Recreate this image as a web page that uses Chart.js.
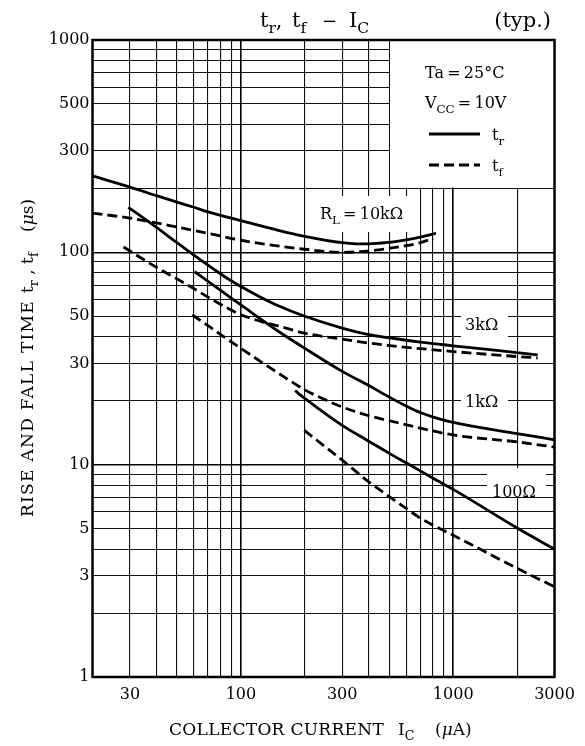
<!DOCTYPE html>
<html>
<head>
<meta charset="UTF-8">
<title>tr, tf - IC</title>
<script src="https://cdn.jsdelivr.net/npm/chart.js@4.4.0/dist/chart.umd.min.js"></script>
<style>
    * { margin: 0; padding: 0; box-sizing: border-box; }
    body { background: #fff; width: 585px; height: 746px; overflow: hidden; }
    canvas { display: block; }
</style>
</head>
<body>
<canvas id="chart" width="585" height="746"></canvas>
<script>
// axis ticks
const xTicks = [20, 30, 40, 50, 60, 70, 80, 90, 100, 200, 300, 400, 500, 600, 700, 800, 900, 1000, 2000, 3000];
const xLabels = [30, 100, 300, 1000, 3000];
const yTicks = [1, 2, 3, 4, 5, 6, 7, 8, 9, 10, 20, 30, 40, 50, 60, 70, 80, 90, 100, 200, 300, 400, 500, 600, 700, 800, 900, 1000];
const yLabels = [1, 3, 5, 10, 30, 50, 100, 300, 500, 1000];

// RL = 10k
const tr10kX = [20, 30, 40, 50, 60, 70, 100, 150, 200, 300, 350, 400, 500, 600, 700, 830];
const tr10kY = [229, 203, 185, 172.5, 163, 155, 141, 127, 119, 111, 109.7, 109.6, 111.5, 114.5, 118, 123];
const tf10kX = [20, 30, 40, 50, 70, 100, 200, 300, 400, 500, 600, 700, 805];
const tf10kY = [153, 145, 137.5, 131.5, 123, 114, 103.4, 100, 101.5, 104.5, 107.5, 111, 116.5];
// RL = 3k
const tr3kX = [29.5, 40, 50, 60, 70, 80, 90, 100, 120, 150, 200, 300, 400, 500, 700, 1000, 2000, 2500];
const tr3kY = [163, 131, 111, 97, 87, 79.3, 73.5, 69, 62.5, 56, 50, 44, 41, 39.6, 37.8, 36.3, 33.7, 32.9];
const tf3kX = [28, 40, 50, 60, 70, 80, 90, 100, 125, 150, 200, 300, 400, 500, 1000, 2000, 2500];
const tf3kY = [106, 85, 75, 67.5, 61.5, 57, 53.5, 50.8, 47.2, 45, 41.6, 39, 37.4, 36.4, 34.1, 32.3, 31.8];
// RL = 1k
const tr1kX = [60.5, 70, 80, 90, 100, 150, 200, 300, 400, 500, 600, 700, 800, 1000, 2000, 3000];
const tr1kY = [81, 73, 66.3, 60.9, 56.5, 42.5, 35.3, 27.5, 23.6, 20.8, 18.9, 17.6, 16.8, 15.8, 14.0, 13.1];
const tf1kX = [59, 70, 80, 100, 150, 200, 250, 300, 400, 500, 1000, 2000, 3000];
const tf1kY = [50.7, 45.2, 41.1, 35.3, 27, 22.5, 20.2, 18.7, 17.0, 16.1, 13.8, 12.8, 12.1];
// RL = 100
const tr100X = [180, 200, 300, 400, 500, 600, 700, 800, 1000, 2000, 3000];
const tr100Y = [22.3, 20.5, 15.3, 12.9, 11.3, 10.2, 9.35, 8.65, 7.65, 5.03, 4.0];
const tf100X = [199, 300, 400, 500, 600, 700, 800, 1000, 2000, 3000];
const tf100Y = [14.5, 10.5, 8.3, 7.07, 6.23, 5.6, 5.2, 4.65, 3.25, 2.66];

const FONT = '"DejaVu Serif", serif';

function pts(xs, ys) {
    return xs.map((x, i) => ({ x: x, y: ys[i] }));
}

function curve(xs, ys, dashed) {
    return {
        data: pts(xs, ys),
        showLine: true,
        borderColor: '#000',
        borderWidth: 2.8,
        borderDash: dashed ? [10, 5] : [],
        pointRadius: 0,
        fill: false,
        tension: 0.4,
        cubicInterpolationMode: 'monotone'
    };
}

function isDecade(v) {
    return v === 1 || v === 10 || v === 100 || v === 1000;
}

// draws a run of text pieces, some as subscripts
function rich(ctx, parts, x, y, size) {
    let cx = x;
    for (const p of parts) {
        const fs = p.sub ? size * 0.74 : size;
        ctx.font = (p.it ? 'italic ' : '') + fs + 'px ' + FONT;
        ctx.fillText(p.t, cx, y + (p.sub ? size * 0.3 : 0));
        cx += ctx.measureText(p.t).width;
    }
    return cx;
}

function clearBox(ctx, x0, y0, x1, y1) {
    ctx.fillStyle = '#fff';
    ctx.fillRect(x0, y0, x1 - x0, y1 - y0);
}

const decor = {
    id: 'decor',
    beforeDatasetsDraw(chart) {
        const ctx = chart.ctx;
        const a = chart.chartArea;
        const sx = chart.scales.x, sy = chart.scales.y;
        ctx.save();
        // legend panel, label backgrounds
        clearBox(ctx, sx.getPixelForValue(500) + 0.8, a.top, a.right, sy.getPixelForValue(200) - 0.8);
        clearBox(ctx, 312, 196, 416, 232);
        clearBox(ctx, 461, 311, 508, 340);
        clearBox(ctx, 461, 389, 508, 412);
        clearBox(ctx, 487, 468, 546, 497);

        ctx.fillStyle = '#000';
        ctx.textBaseline = 'alphabetic';
        ctx.textAlign = 'left';
        rich(ctx, [{ t: 'R' }, { t: 'L', sub: true }, { t: '\u2009=\u200910k\u03A9' }], 320, 219, 16);
        rich(ctx, [{ t: '3k\u03A9' }], 465, 330, 16);
        rich(ctx, [{ t: '1k\u03A9' }], 465, 407, 16);
        rich(ctx, [{ t: '100\u03A9' }], 492, 497, 16);
        ctx.restore();
    },
    afterDatasetsDraw(chart) {
        const ctx = chart.ctx;
        const a = chart.chartArea;
        ctx.save();
        ctx.strokeStyle = '#000';
        ctx.lineWidth = 2.5;
        ctx.strokeRect(a.left, a.top, a.right - a.left, a.bottom - a.top);
        ctx.restore();
    },
    afterDraw(chart) {
        const ctx = chart.ctx;
        ctx.save();
        ctx.fillStyle = '#000';
        ctx.textBaseline = 'alphabetic';
        ctx.textAlign = 'left';

        // title
        rich(ctx, [{ t: 't' }, { t: 'r', sub: true }, { t: ',' }], 260, 27, 21);
        rich(ctx, [{ t: 't' }, { t: 'f', sub: true }], 292, 27, 21);
        rich(ctx, [{ t: '\u2212' }], 322, 27, 18);
        rich(ctx, [{ t: 'I' }, { t: 'C', sub: true }], 349, 27, 21);
        ctx.textAlign = 'right';
        ctx.font = '21px ' + FONT;
        ctx.fillText('(typ.)', 551, 27);
        ctx.textAlign = 'left';

        // conditions and line key
        rich(ctx, [{ t: 'Ta\u2009=\u200925\u00B0C' }], 425, 78, 16);
        rich(ctx, [{ t: 'V' }, { t: 'CC', sub: true }, { t: '\u2009=\u200910V' }], 425, 108, 16);
        ctx.strokeStyle = '#000';
        ctx.lineWidth = 2.8;
        ctx.beginPath();
        ctx.moveTo(429, 134); ctx.lineTo(480, 134);
        ctx.stroke();
        ctx.setLineDash([10, 5]);
        ctx.beginPath();
        ctx.moveTo(429, 165); ctx.lineTo(480, 165);
        ctx.stroke();
        ctx.setLineDash([]);
        rich(ctx, [{ t: 't' }, { t: 'r', sub: true }], 492, 140, 16);
        rich(ctx, [{ t: 't' }, { t: 'f', sub: true }], 492, 171, 16);

        // x axis title
        ctx.letterSpacing = '0.3px';
        rich(ctx, [{ t: 'COLLECTOR CURRENT' }], 169, 735, 17);
        ctx.letterSpacing = '0px';
        rich(ctx, [{ t: 'I' }, { t: 'C', sub: true }], 398, 735, 17);
        rich(ctx, [{ t: '(' }, { t: '\u03BC', it: true }, { t: 'A)' }], 435, 735, 17);

        // y axis title, rotated
        ctx.translate(33, 0);
        ctx.rotate(-Math.PI / 2);
        ctx.letterSpacing = '1.3px';
        rich(ctx, [{ t: 'RISE AND FALL TIME' }], -517, 0, 17);
        ctx.letterSpacing = '0px';
        rich(ctx, [{ t: 't' }, { t: 'r', sub: true }, { t: ' , t' }, { t: 'f', sub: true }], -293, 0, 17);
        rich(ctx, [{ t: '(' }, { t: '\u03BC', it: true }, { t: 's)' }], -232, 0, 17);
        ctx.restore();
    }
};

const gridColor = ctx => (ctx.tick && isDecade(ctx.tick.value)) ? '#000' : '#111';
const gridWidth = ctx => (ctx.tick && isDecade(ctx.tick.value)) ? 1.6 : 1.1;

new Chart(document.getElementById('chart').getContext('2d'), {
    type: 'scatter',
    data: {
        datasets: [
            curve(tr10kX, tr10kY, false),
            curve(tf10kX, tf10kY, true),
            curve(tr3kX, tr3kY, false),
            curve(tf3kX, tf3kY, true),
            curve(tr1kX, tr1kY, false),
            curve(tf1kX, tf1kY, true),
            curve(tr100X, tr100Y, false),
            curve(tf100X, tf100Y, true)
        ]
    },
    options: {
        responsive: false,
        animation: false,
        devicePixelRatio: 1,
        layout: { padding: { top: 40, right: 30.5, bottom: 0, left: 0 } },
        plugins: { legend: { display: false }, tooltip: { enabled: false } },
        scales: {
            x: {
                type: 'logarithmic',
                min: 20,
                max: 3000,
                afterBuildTicks: s => { s.ticks = xTicks.map(v => ({ value: v })); },
                afterFit: s => { s.height = 69; },
                ticks: {
                    autoSkip: false,
                    maxRotation: 0,
                    padding: 8,
                    color: '#000',
                    font: { family: FONT, size: 16 },
                    callback: v => xLabels.includes(v) ? String(v) : ''
                },
                grid: { color: gridColor, lineWidth: gridWidth, drawTicks: false },
                border: { display: false }
            },
            y: {
                type: 'logarithmic',
                min: 1,
                max: 1000,
                afterBuildTicks: s => { s.ticks = yTicks.map(v => ({ value: v })); },
                afterFit: s => { s.width = 92.5; },
                ticks: {
                    autoSkip: false,
                    padding: 3,
                    color: '#000',
                    font: { family: FONT, size: 16 },
                    callback: v => yLabels.includes(v) ? String(v) : ''
                },
                grid: { color: gridColor, lineWidth: gridWidth, drawTicks: false },
                border: { display: false }
            }
        }
    },
    plugins: [decor]
});
</script>
</body>
</html>
